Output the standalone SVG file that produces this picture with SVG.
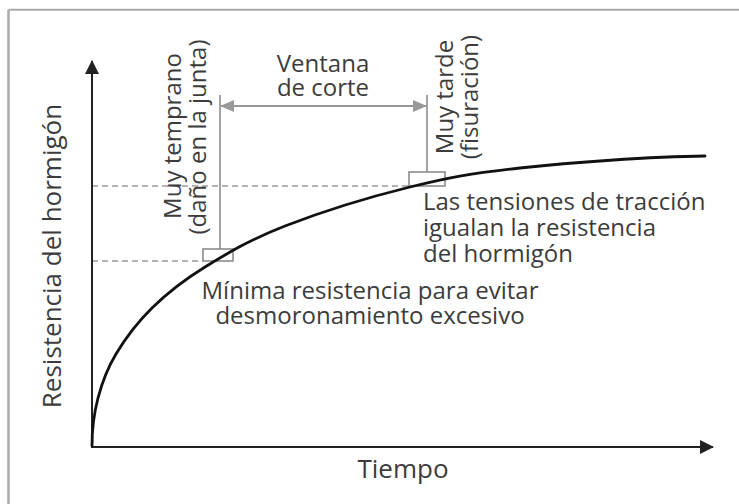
<svg xmlns="http://www.w3.org/2000/svg" width="739" height="504" viewBox="0 0 739 504">
<style>
text{font-family:"Open Sans","Noto Sans","Liberation Sans",sans-serif;fill:#3c3c3c;}
.lbl{font-size:24px;}
.ax{font-size:26px;}
.axis{stroke:#222;stroke-width:2;fill:none;}
.dash{stroke:#9a9a9a;stroke-width:1.4;stroke-dasharray:6 4;fill:none;}
.guide{stroke:#8c8c8c;stroke-width:1.6;fill:none;}
.box{stroke:#8c8c8c;stroke-width:1.6;fill:#fff;}
.curve{stroke:#111;stroke-width:2.8;fill:none;stroke-linecap:round;}
</style>
<defs>
<marker id="ah" markerWidth="14" markerHeight="14" refX="13" refY="7" orient="auto" markerUnits="userSpaceOnUse">
<path d="M0,0 L14,7 L0,14 Z" fill="#222"/>
</marker>
<marker id="gh" markerWidth="14" markerHeight="12" refX="13" refY="6" orient="auto-start-reverse" markerUnits="userSpaceOnUse">
<path d="M0,0 L14,6 L0,12 Z" fill="#999"/>
</marker>
</defs>
<rect width="739" height="504" fill="#fff"/>
<g id="frame">
<line x1="8.5" y1="9.8" x2="739" y2="9.8" stroke="#aaa" stroke-width="2"/>
<line x1="8.5" y1="9.8" x2="8.5" y2="504" stroke="#aaa" stroke-width="2.5"/>
</g>
<g id="connectors">
<line class="dash" x1="92" y1="186" x2="409" y2="186"/>
<line class="dash" x1="92" y1="261" x2="203" y2="261"/>
<line class="guide" x1="220" y1="95" x2="220" y2="249"/>
<line class="guide" x1="427" y1="95" x2="427" y2="172"/>
<line x1="221" y1="106" x2="426" y2="106" stroke="#999" stroke-width="2" marker-start="url(#gh)" marker-end="url(#gh)"/>
<line class="axis" x1="92" y1="447" x2="92" y2="61" marker-end="url(#ah)"/>
<line class="axis" x1="91" y1="447" x2="713" y2="447" marker-end="url(#ah)"/>
</g>
<g id="box-early"><rect class="box" x="203" y="249" width="30" height="12"/></g>
<g id="box-late"><rect class="box" x="409" y="172" width="36" height="14"/></g>
<g id="curve">
<path class="curve" d="M92,446 C92,425 94,413.3 98,398 C102,382.7 107,369 116,354 C125,339 137.2,322.5 152,308 C166.8,293.5 182.8,280.7 205,267 C227.2,253.3 250.8,239.3 285,226 C319.2,212.7 370.8,196.7 410,187 C449.2,177.3 470.8,173.2 520,168 C569.2,162.8 650,156.5 705,156"/>
</g>
<g id="label-y"><text class="ax" transform="translate(61,256) rotate(-90)" text-anchor="middle">Resistencia del hormigón</text></g>
<g id="label-x"><text class="ax" x="403" y="478" text-anchor="middle">Tiempo</text></g>
<g id="label-window"><text class="lbl" x="323" y="72" text-anchor="middle">Ventana</text><text class="lbl" x="323" y="96" text-anchor="middle">de corte</text></g>
<g id="label-early"><text class="lbl" transform="translate(181,136) rotate(-90)" text-anchor="middle">Muy temprano</text><text class="lbl" transform="translate(206,137) rotate(-90)" text-anchor="middle">(daño en la junta)</text></g>
<g id="label-late"><text class="lbl" transform="translate(453,97) rotate(-90)" text-anchor="middle">Muy tarde</text><text class="lbl" transform="translate(478,97) rotate(-90)" text-anchor="middle">(fisuración)</text></g>
<g id="label-tension"><text class="lbl" x="423" y="210">Las tensiones de tracción</text><text class="lbl" x="423" y="236">igualan la resistencia</text><text class="lbl" x="423" y="262">del hormigón</text></g>
<g id="label-min"><text class="lbl" x="370" y="299" text-anchor="middle">Mínima resistencia para evitar</text><text class="lbl" x="370" y="324" text-anchor="middle">desmoronamiento excesivo</text></g>
</svg>
